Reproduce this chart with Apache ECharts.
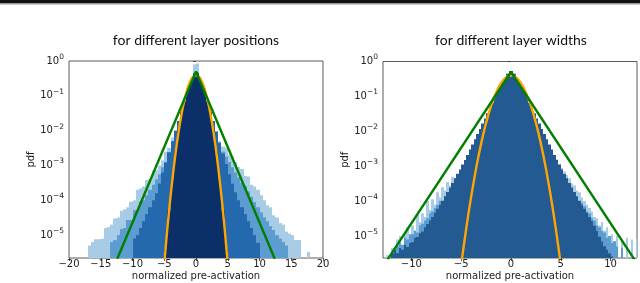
<!DOCTYPE html>
<html><head><meta charset="utf-8">
<script src="https://cdn.jsdelivr.net/npm/echarts@6/dist/echarts.min.js"></script>
<style>html,body{margin:0;padding:0;background:#fff}#c{width:640px;height:283px}</style>
</head><body><div id="c"></div>
<script>
// ---------- text ----------
const titles = ['for different layer positions', 'for different layer widths'];
const xName = 'normalized pre-activation';
const yName = 'pdf';
const posXTicks = [-20, -15, -10, -5, 0, 5, 10, 15, 20];
const widthXTicks = [-10, -5, 0, 5, 10];

// ---------- left panel: histograms (bin width 0.5) ----------
const posBinWidth = 0.5;
const posS1Start = -17;
const posS1 = [5.0e-6, 6.3e-6, 7.6e-6, 7.6e-6, 7.9e-6, 1.6e-5, 1.7e-5, 2.0e-5, 3.0e-5, 3.2e-5, 5.0e-5, 5.5e-5, 6.3e-5, 9.1e-5, 1.0e-4, 2.0e-4, 2.2e-4, 2.5e-4, 3.8e-4, 4.0e-4, 7.1e-4, 7.4e-4, 1.0e-3, 1.4e-3, 2.5e-3, 3.2e-3, 6.3e-3, 7.9e-3, 1.26e-2, 0.02, 0.035, 0.071, 0.2, 0.8,
  0.85, 0.25, 0.079, 0.04, 0.02, 0.011, 7.1e-3, 5.0e-3, 3.5e-3, 3.2e-3, 2.0e-3, 1.8e-3, 1.26e-3, 9.1e-4, 7.9e-4, 5.0e-4, 4.8e-4, 2.8e-4, 2.5e-4, 2.0e-4, 1.4e-4, 1.0e-4, 7.2e-5, 6.3e-5, 3.7e-5, 3.2e-5, 2.2e-5, 2.0e-5, 1.26e-5, 1.1e-5, 1.0e-5, 7.2e-6, 7.2e-6, null, null, 3.3e-6];
const posS2Start = -13.5;
const posS2 = [6.3e-6, 7.2e-6, 1.0e-5, 1.5e-5, 1.6e-5, 2.7e-5, 2.7e-5, 5.2e-5, 5.2e-5, 9.1e-5, 1.0e-4, 1.4e-4, 2.0e-4, 2.8e-4, 4.0e-4, 5.6e-4, 8.9e-4, 1.26e-3, 2.0e-3, 3.2e-3, 5.6e-3, 8.9e-3, 0.016, 0.028, 0.056, 0.126, 0.4,
  0.45, 0.14, 0.063, 0.032, 0.018, 0.01, 6.3e-3, 4.0e-3, 2.5e-3, 1.8e-3, 1.26e-3, 8.9e-4, 6.3e-4, 4.5e-4, 3.2e-4, 2.5e-4, 1.8e-4, 1.26e-4, 8.9e-5, 6.3e-5, 4.5e-5, 3.2e-5, 2.5e-5, 1.8e-5, 1.4e-5, 1.0e-5, 7.9e-6, 6.3e-6, 5.0e-6];
const posS3Start = -10;
const posS3 = [8.0e-6, 1.0e-5, 1.6e-5, 2.5e-5, 4.0e-5, 6.3e-5, 1.0e-4, 1.6e-4, 3.0e-4, 6.3e-4, 1.2e-3, 2.4e-3, 5.0e-3, 0.01, 0.019, 0.035, 0.07, 0.14, 0.25, 0.45,
  0.47, 0.25, 0.14, 0.07, 0.035, 0.019, 0.0095, 4.5e-3, 2.2e-3, 1.1e-3, 5.6e-4, 3.0e-4, 1.7e-4, 1.0e-4, 6.3e-5, 4.0e-5, 2.5e-5, 1.6e-5, 1.0e-5, 6.0e-6];
const posS4Start = -5;
const posS4 = [4.0e-6, 5.0e-5, 4.0e-4, 2.5e-3, 0.011, 0.032, 0.07, 0.16, 0.28, 0.42,
  0.42, 0.28, 0.16, 0.07, 0.032, 0.011, 2.5e-3, 4.0e-4, 5.0e-5, 4.0e-6];

// ---------- right panel: histograms (bin width 0.25) ----------
const widthBinWidth = 0.25;
const widthDarkStart = -12;
const widthDark = [3.2e-6, 4.0e-6, 3.2e-6, 4.5e-6, 4.0e-6, 5.6e-6, 4.8e-6, 6.3e-6, 6.6e-6, 8.9e-6, 9.3e-6, 1.2e-5, 1.35e-5, 1.78e-5, 2.2e-5, 2.8e-5, 3.5e-5, 4.6e-5, 6.0e-5, 7.8e-5, 1.02e-4, 1.38e-4, 1.82e-4, 2.45e-4, 3.3e-4, 4.5e-4, 6.0e-4, 8.1e-4, 1.12e-3, 1.5e-3, 2.1e-3, 3.0e-3, 4.2e-3, 5.9e-3, 8.3e-3, 0.0117, 0.0166, 0.0234, 0.0331, 0.0468, 0.066, 0.093, 0.132, 0.186, 0.257, 0.347, 0.447, 0.537,
  0.537, 0.447, 0.347, 0.257, 0.186, 0.132, 0.093, 0.066, 0.0468, 0.0331, 0.0234, 0.0166, 0.0117, 8.3e-3, 5.9e-3, 4.2e-3, 3.0e-3, 2.1e-3, 1.5e-3, 1.12e-3, 8.1e-4, 6.0e-4, 4.5e-4, 3.3e-4, 2.45e-4, 1.82e-4, 1.38e-4, 1.02e-4, 7.8e-5, 6.0e-5, 4.6e-5, 3.5e-5, 2.7e-5, 1.95e-5, 1.38e-5, 9.5e-6, 6.9e-6, 5.1e-6, 4.0e-6, 3.2e-6, 2.6e-6];
const widthLightLeftStart = -12.5;
const widthLightLeft = [2.8e-6, null, 4.5e-6, 3.5e-6, 7.9e-6, 1.0e-5, 5.0e-6, 1.12e-5, 1.78e-5, 7.9e-6, 2.0e-5, 1.41e-5, 4.0e-5, 2.5e-5, 4.5e-5, 3.5e-5, 1.0e-4, 5.6e-5, 1.12e-4, 7.9e-5, 1.78e-4, 1.26e-4, 2.5e-4, 2.0e-4, 3.5e-4, 2.8e-4, 5.0e-4, 4.5e-4, 6.3e-4, 7.1e-4, 1.0e-3, 1.26e-3, 1.58e-3, 2.24e-3];
const widthLightRightStart = 4;
const widthLightRight = [2.5e-3, 1.9e-3, 1.58e-3, 1.12e-3, 8.9e-4, 7.1e-4, 5.6e-4, 4.5e-4, 3.2e-4, 2.8e-4, 2.0e-4, 1.78e-4, 1.26e-4, 1.0e-4, 7.9e-5, 6.3e-5, 5.0e-5, 3.5e-5, 3.2e-5, 2.0e-5, 2.5e-5, 1.41e-5, 1.78e-5, 6.3e-6, 1.12e-5, null, 1.0e-5, null, 7.9e-6, null, 8.9e-6, null, 7.9e-6, null, 7.9e-6];
const widthMidLeftStart = -11.5;
const widthMidLeft = [5.0e-6, 6.3e-6, 5.6e-6, 8.9e-6, 7.9e-6, 1.12e-5, 1.12e-5, 1.41e-5, 1.26e-5, 2.0e-5, 2.24e-5, 2.8e-5, 3.2e-5, 4.5e-5, 5.0e-5, 6.3e-5, 7.9e-5, 1.0e-4];
const widthMidRightStart = 7;
const widthMidRight = [8.9e-5, 7.1e-5, 5.0e-5, 4.5e-5, 3.2e-5, 2.8e-5, 2.0e-5, 1.78e-5, 1.41e-5, 1.26e-5, 8.9e-6, 1.0e-5, 6.3e-6, 7.1e-6, 5.0e-6, null, 4.5e-6, null];

// ---------- reference curves ----------
const gaussCurve = [[-5, 1.5e-6], [-4.75, 5.0e-6], [-4.5, 1.6e-5], [-4.25, 4.8e-5], [-4, 1.34e-4], [-3.75, 3.5e-4], [-3.5, 8.7e-4], [-3.25, 2.03e-3], [-3, 4.43e-3], [-2.75, 9.1e-3], [-2.5, 0.0175], [-2.25, 0.0317], [-2, 0.054], [-1.75, 0.0863], [-1.5, 0.13], [-1.25, 0.183], [-1, 0.242], [-0.75, 0.301], [-0.5, 0.352], [-0.25, 0.387], [0, 0.399],
  [0.25, 0.387], [0.5, 0.352], [0.75, 0.301], [1, 0.242], [1.25, 0.183], [1.5, 0.13], [1.75, 0.0863], [2, 0.054], [2.25, 0.0317], [2.5, 0.0175], [2.75, 9.1e-3], [3, 4.43e-3], [3.25, 2.03e-3], [3.5, 8.7e-4], [3.75, 3.5e-4], [4, 1.34e-4], [4.25, 4.8e-5], [4.5, 1.6e-5], [4.75, 5.0e-6], [5, 1.5e-6]];
const laplaceCurve = [[-12.4, 2.1e-6], [0, 0.5], [12.4, 2.1e-6]];

// ---------- build ----------
function toBins(start, w, vals) {
  const out = [];
  vals.forEach((v, i) => { if (v != null) out.push([start + i * w, start + (i + 1) * w, v]); });
  return out;
}
function binSeries(idx, color, data, z) {
  return {
    type: 'custom', xAxisIndex: idx, yAxisIndex: idx, clip: true, silent: true, z: z,
    encode: { x: [0, 1], y: 2 }, data: data,
    renderItem: function (params, api) {
      const a = api.coord([api.value(0), api.value(2)]);
      const b = api.coord([api.value(1), api.value(2)]);
      const bottom = params.coordSys.y + params.coordSys.height;
      const x0 = Math.round(a[0]), x1 = Math.round(b[0]);
      return { type: 'rect', shape: { x: x0, y: a[1], width: x1 - x0, height: bottom - a[1] },
        style: { fill: color } };
    }
  };
}
function curve(idx, color, data, z) {
  return { type: 'line', xAxisIndex: idx, yAxisIndex: idx, data: data, showSymbol: false, clip: true, silent: true, z: z,
    lineStyle: { color: color, width: 2.4 }, animation: false };
}
const minus = s => String(s).replace('-', '\u2212');
const TXT = '#222';
const FONT = 'DejaVu Sans';
function xAxisCfg(idx, min, max, ticks) {
  return {
    type: 'value', gridIndex: idx, min: min, max: max,
    name: xName, nameLocation: 'middle', nameGap: 13, nameMoveOverlap: false,
    nameTextStyle: { color: TXT, fontSize: 10, fontFamily: FONT },
    axisLine: { show: false },
    axisTick: { show: true, length: 3, customValues: ticks, lineStyle: { color: '#333', width: 0.8 } },
    axisLabel: { customValues: ticks, margin: 1, color: TXT, fontSize: 10, fontFamily: FONT, formatter: v => minus(v) },
    splitLine: { show: false }
  };
}
function yAxisCfg(idx, min) {
  return {
    type: 'log', logBase: 10, gridIndex: idx, min: min, max: 1,
    name: yName, nameLocation: 'middle', nameGap: 31,
    nameTextStyle: { color: TXT, fontSize: 10, fontFamily: FONT },
    axisLine: { show: false },
    axisTick: { show: true, length: 3, lineStyle: { color: '#333', width: 0.8 } },
    axisLabel: {
      showMinLabel: false, margin: 5, color: TXT, fontFamily: FONT,
      formatter: v => { const e = Math.round(Math.log10(v)); return '{b|10}{s|' + minus(e) + '}'; },
      rich: { b: { fontSize: 10, fontFamily: FONT, color: TXT }, s: { fontSize: 7.5, fontFamily: FONT, color: TXT, padding: [0, 0, 8, 0] } }
    },
    splitLine: { show: false }
  };
}

const chart = echarts.init(document.getElementById('c'), null, { renderer: 'canvas' });
chart.setOption({
  animation: false,
  backgroundColor: '#fff',
  title: [
    { text: titles[0], left: 196, top: 33, textAlign: 'center', padding: 0, textStyle: { fontFamily: 'Lato', fontSize: 14, fontWeight: 'normal', color: '#111' } },
    { text: titles[1], left: 511, top: 33, textAlign: 'center', padding: 0, textStyle: { fontFamily: 'Lato', fontSize: 14, fontWeight: 'normal', color: '#111' } }
  ],
  graphic: [
    { type: 'rect', left: 0, top: 0, shape: { width: 640, height: 3 }, style: { fill: '#111' } },
    { type: 'rect', left: 0, top: 3, shape: { width: 640, height: 1.5 }, style: { fill: '#999' } }
  ],
  grid: [
    { left: 69, top: 61, width: 254, height: 197, show: true, borderColor: '#333', borderWidth: 0.8, backgroundColor: 'transparent', outerBoundsMode: 'none', containLabel: false },
    { left: 383, top: 61.5, width: 254, height: 196.5, show: true, borderColor: '#333', borderWidth: 0.8, backgroundColor: 'transparent', outerBoundsMode: 'none', containLabel: false }
  ],
  xAxis: [xAxisCfg(0, -20, 20, posXTicks), xAxisCfg(1, -12.85, 12.65, widthXTicks)],
  yAxis: [yAxisCfg(0, 2.2e-6), yAxisCfg(1, 2.34e-6)],
  series: [
    binSeries(0, '#a9cce6', toBins(posS1Start, posBinWidth, posS1), 1),
    binSeries(0, '#5c9cd0', toBins(posS2Start, posBinWidth, posS2), 2),
    binSeries(0, '#2468ad', toBins(posS3Start, posBinWidth, posS3), 3),
    binSeries(0, '#0b2f68', toBins(posS4Start, posBinWidth, posS4), 4),
    curve(0, '#ffa500', gaussCurve, 5),
    curve(0, '#008000', laplaceCurve, 6),
    binSeries(1, '#a9cce6', toBins(widthLightLeftStart, widthBinWidth, widthLightLeft), 1),
    binSeries(1, '#a9cce6', toBins(widthLightRightStart, widthBinWidth, widthLightRight), 1),
    binSeries(1, '#5c9cd0', toBins(widthMidLeftStart, widthBinWidth, widthMidLeft), 2),
    binSeries(1, '#5c9cd0', toBins(widthMidRightStart, widthBinWidth, widthMidRight), 2),
    binSeries(1, '#245a92', toBins(widthDarkStart, widthBinWidth, widthDark), 3),
    curve(1, '#ffa500', gaussCurve, 5),
    curve(1, '#008000', laplaceCurve, 6)
  ]
});
</script></body></html>
